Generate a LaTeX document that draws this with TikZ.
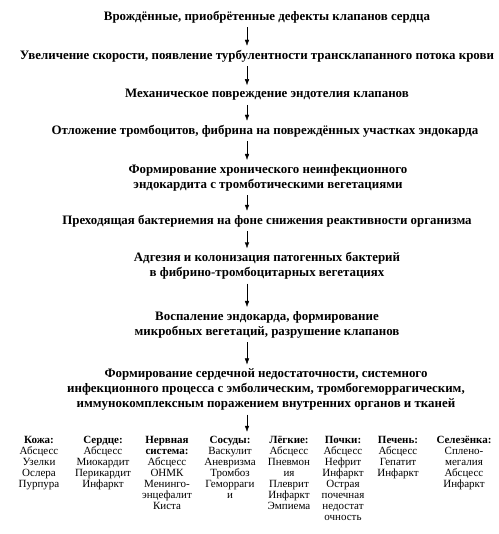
\documentclass[tikz,border=0pt]{standalone}
\usepackage{fontspec}
\setmainfont{Liberation Serif}
\usepackage{tikz}
\usetikzlibrary{arrows.meta, positioning, fit}
\tikzstyle{step box} = [inner sep=4pt, align=center, font=\bfseries\fontsize{12.9}{15}\selectfont]
\tikzstyle{organ} = [inner sep=0pt, anchor=north, align=center, font=\fontsize{11}{11}\selectfont]

\begin{document}
\begin{tikzpicture}[x=1pt, y=-1pt, >={Latex[length=6pt, width=4.5pt]}]
        \useasboundingbox (0,0) rectangle (498,534);
        \coordinate (ax) at (247,0);

        \node[step box] (defects) at (267,17) {Врождённые, приобрётенные дефекты клапанов сердца};
        \node[step box] (turbulence) at (257,56) {Увеличение скорости, появление турбулентности трансклапанного потока крови};
        \node[step box] (endoDamage) at (267,95) {Механическое повреждение эндотелия клапанов};
        \node[step box] (plateletDep) at (265,131) {Отложение тромбоцитов, фибрина на повреждённых участках эндокарда};
        \node[step box] (nbte) at (268,177.5) {Формирование хронического неинфекционного\\эндокардита с тромботическими вегетациями};
        \node[step box] (bacteremia) at (267,221) {Преходящая бактериемия на фоне снижения реактивности организма};
        \node[step box] (adhesion) at (267,266) {Адгезия и колонизация патогенных бактерий\\в фибрино-тромбоцитарных вегетациях};
        \node[step box] (inflammation) at (267,324.5) {Воспаление эндокарда, формирование\\микробных вегетаций, разрушение клапанов};
        \node[step box] (failure) at (266,389.5) {Формирование сердечной недостаточности, системного\\инфекционного процесса с эмболическим, тромбогеморрагическим,\\иммунокомплексным поражением внутренних органов и тканей};

        \node[organ] (skin) at (39,436) {\textbf{Кожа:}\\Абсцесс\\Узелки\\Ослера\\Пурпура};
        \node[organ] (heart) at (103,436) {\textbf{Сердце:}\\Абсцесс\\Миокардит\\Перикардит\\Инфаркт};
        \node[organ] (nervous) at (167,436) {\textbf{Нервная}\\\textbf{система:}\\Абсцесс\\ОНМК\\Менинго-\\энцефалит\\Киста};
        \node[organ] (vessels) at (230,436) {\textbf{Сосуды:}\\Васкулит\\Аневризма\\Тромбоз\\Геморраги\\и};
        \node[organ] (lungs) at (289,436) {\textbf{Лёгкие:}\\Абсцесс\\Пневмон\\ия\\Плеврит\\Инфаркт\\Эмпиема};
        \node[organ] (kidneys) at (343,436) {\textbf{Почки:}\\Абсцесс\\Нефрит\\Инфаркт\\Острая\\почечная\\недостат\\очность};
        \node[organ] (liver) at (398,436) {\textbf{Печень:}\\Абсцесс\\Гепатит\\Инфаркт};
        \node[organ] (spleen) at (464,436) {\textbf{Селезёнка:}\\Сплено-\\мегалия\\Абсцесс\\Инфаркт};
        \node[fit={(skin) (spleen) (kidneys)}, inner sep=4pt] (organs) {};

        \draw[->] (defects.south -| ax) -- (turbulence.north -| ax);
        \draw[->] (turbulence.south -| ax) -- (endoDamage.north -| ax);
        \draw[->] (endoDamage.south -| ax) -- (plateletDep.north -| ax);
        \draw[->] (plateletDep.south -| ax) -- (nbte.north -| ax);
        \draw[->] (nbte.south -| ax) -- (bacteremia.north -| ax);
        \draw[->] (bacteremia.south -| ax) -- (adhesion.north -| ax);
        \draw[->] (adhesion.south -| ax) -- (inflammation.north -| ax);
        \draw[->] (inflammation.south -| ax) -- (failure.north -| ax);
        \draw[->] (failure.south -| ax) -- (organs.north -| ax);

    \end{tikzpicture}
\end{document}
